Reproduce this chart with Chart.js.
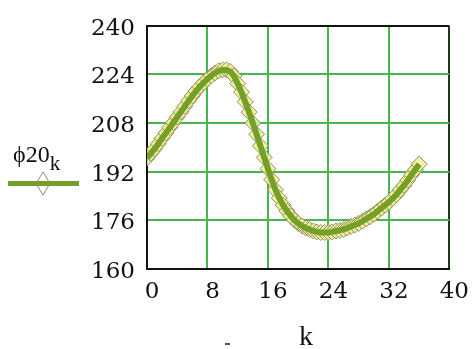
<!DOCTYPE html>
<html>
<head>
<meta charset="utf-8">
<script src="https://cdn.jsdelivr.net/npm/chart.js@4/dist/chart.umd.min.js"></script>
<style>
  html, body { margin: 0; padding: 0; background: #ffffff; }
  #wrap { width: 473px; height: 349px; position: relative; }
</style>
</head>
<body>
<div id="wrap"><canvas id="c" width="473" height="349"></canvas></div>
<script>
// ---- data ----
const kValues = [
  0, 0.5, 1, 1.5, 2, 2.5, 3, 3.5, 4, 4.5, 5, 5.5, 6, 6.5, 7, 7.5, 8, 8.5, 9, 9.5,
  10, 10.5, 11, 11.5, 12, 12.5, 13, 13.5, 14, 14.5, 15, 15.5, 16, 16.5, 17, 17.5,
  18, 18.5, 19, 19.5, 20, 20.5, 21, 21.5, 22, 22.5, 23, 23.5, 24, 24.5, 25, 25.5,
  26, 26.5, 27, 27.5, 28, 28.5, 29, 29.5, 30, 30.5, 31, 31.5, 32, 32.5, 33, 33.5,
  34, 34.5, 35, 35.5, 36
];
const phi20Values = [
  196.5, 198, 199.5, 201.2, 203, 204.7, 206.5, 208.2, 210, 211.7, 213.5, 215.3, 217, 218.6, 220, 221.3, 222.5, 223.6, 224.5, 225.2,
  225.5, 225.5, 225, 223.5, 221, 218.2, 215, 211.6, 208, 204.3, 200.5, 196.7, 193, 189.4, 186, 183.3,
  181, 179.1, 177.5, 176.1, 175, 174.2, 173.5, 173, 172.5, 172.2, 172, 172, 172, 172.2, 172.5, 172.7,
  173, 173.5, 174, 174.5, 175, 175.7, 176.5, 177.2, 178, 179, 180, 181, 182, 183.2, 184.5, 186,
  187.5, 189.2, 191, 192.7, 194.5
];
const xTicks = [0, 8, 16, 24, 32, 40];
const yTicks = [160, 176, 192, 208, 224, 240];
const seriesName = "ϕ20";
const seriesSub = "k";
const xTitle = "k";

const points = kValues.map((k, i) => ({ x: k, y: phi20Values[i] }));

const LINE = '#74a02a';
const GRID = '#44b84a';
const MARK_FILL = 'rgba(242,238,150,0.85)';
const MARK_EDGE = '#8e8e62';

const overlay = {
  id: 'overlay',
  afterDraw(chart) {
    const ctx = chart.ctx;
    ctx.save();
    // x axis title
    ctx.fillStyle = '#111';
    ctx.font = '28px "Liberation Serif"';
    ctx.textAlign = 'center';
    ctx.textBaseline = 'alphabetic';
    ctx.fillText(xTitle, 306, 345);
    // legend label
    ctx.textAlign = 'left';
    ctx.font = '24px "Liberation Serif"';
    ctx.fillText(seriesName, 13, 162);
    const w = ctx.measureText(seriesName).width;
    ctx.font = '21px "Liberation Serif"';
    ctx.fillText(seriesSub, 13 + w, 170);
    // legend sample line
    ctx.strokeStyle = LINE;
    ctx.lineWidth = 5;
    ctx.beginPath();
    ctx.moveTo(8, 183.5);
    ctx.lineTo(79, 183.5);
    ctx.stroke();
    // legend diamond
    ctx.strokeStyle = MARK_EDGE;
    ctx.lineWidth = 1;
    ctx.beginPath();
    ctx.moveTo(43, 172);
    ctx.lineTo(50, 183.5);
    ctx.lineTo(43, 195);
    ctx.lineTo(36, 183.5);
    ctx.closePath();
    ctx.stroke();
    // small mark at bottom
    ctx.fillStyle = '#555';
    ctx.fillRect(225, 343, 5, 2);
    ctx.restore();
  }
};

new Chart(document.getElementById('c'), {
  type: 'scatter',
  data: {
    datasets: [
      {
        label: seriesName + seriesSub,
        data: points,
        showLine: true,
        borderColor: LINE,
        borderWidth: 6,
        pointRadius: 0,
        tension: 0,
        order: 0
      },
      {
        label: seriesName + seriesSub + ' markers',
        data: points,
        showLine: false,
        pointStyle: 'rectRot',
        pointRadius: 8,
        pointBackgroundColor: MARK_FILL,
        pointBorderColor: MARK_EDGE,
        pointBorderWidth: 1,
        order: 1
      }
    ]
  },
  plugins: [overlay],
  options: {
    responsive: false,
    animation: false,
    devicePixelRatio: 1,
    layout: { padding: { left: 0, right: 20, top: 22, bottom: 0 } },
    plugins: { legend: { display: false }, tooltip: { enabled: false } },
    scales: {
      x: {
        type: 'linear',
        min: 0, max: 40,
        afterBuildTicks: s => { s.ticks = xTicks.map(v => ({ value: v })); },
        afterFit: s => { s.height = 80; },
        grid: {
          color: ctx => (ctx.tick && ctx.tick.value === 40) ? '#1a3a1a' : GRID,
          lineWidth: 2,
          drawTicks: false
        },
        border: { display: true, color: '#111', width: 2 },
        ticks: {
          font: { family: '"DejaVu Serif"', size: 23 },
          color: '#111',
          padding: 9,
          labelOffset: 5,
          maxRotation: 0,
          autoSkip: false
        }
      },
      y: {
        type: 'linear',
        min: 160, max: 240,
        afterBuildTicks: s => { s.ticks = yTicks.map(v => ({ value: v })); },
        afterFit: s => { s.width = 147; },
        grid: {
          color: ctx => (ctx.tick && ctx.tick.value === 240) ? '#111' : GRID,
          lineWidth: 2,
          drawTicks: false
        },
        border: { display: true, color: '#111', width: 2 },
        ticks: {
          font: { family: '"DejaVu Serif"', size: 23 },
          color: '#111',
          padding: 12,
          labelOffset: 3,
          autoSkip: false
        }
      }
    }
  }
});
</script>
</body>
</html>
